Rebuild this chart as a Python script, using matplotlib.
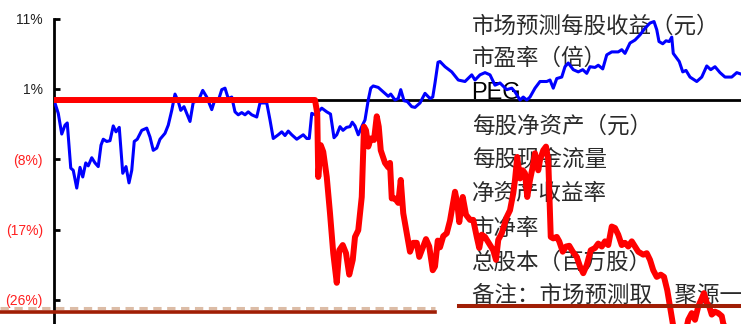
import numpy as np
import matplotlib
matplotlib.use("Agg")
import matplotlib.pyplot as plt
from matplotlib.lines import Line2D

# relative performance in %, x = trading day index
blue_days = [0.0, 1.7, 3.1, 4.4, 5.3, 6.7, 7.7, 9.1, 10.4, 11.5,
             12.7, 13.7, 15.1, 16.4, 17.7, 18.8, 19.7, 21.1, 22.4, 23.7,
             24.8, 26.1, 27.5, 28.8, 30.0, 31.1, 32.1, 33.3, 35.1, 37.1,
             38.4, 39.7, 41.1, 42.4, 44.4, 45.7, 47.1, 48.4, 49.7, 50.7,
             52.0, 54.4, 55.7, 57.7, 59.5, 61.1, 63.1, 64.4, 65.7, 67.1,
             68.4, 69.7, 71.1, 72.4, 73.7, 75.1, 76.4, 77.7, 79.1, 81.1,
             82.4, 85.1, 86.4, 87.7, 89.7, 91.1, 92.4, 93.7, 95.1, 97.1,
             98.4, 99.7, 101.1, 102.1, 103.1, 104.4, 105.7, 107.1, 109.1, 110.6,
             112.0, 113.1, 114.4, 115.6, 117.0, 118.4, 119.3, 120.4, 121.7, 123.1,
             124.4, 125.7, 126.7, 127.7, 129.7, 131.7, 133.7, 134.7, 136.4, 137.7,
             138.7, 140.0, 141.3, 143.1, 144.4, 146.4, 148.4, 150.4, 151.5, 152.4,
             153.6, 154.4, 156.4, 159.1, 161.7, 164.4, 167.1, 168.4, 170.4, 172.4,
             174.4, 176.4, 178.4, 181.1, 183.1, 184.4, 186.4, 187.7, 189.1, 190.4,
             192.4, 194.4, 197.1, 198.4, 199.7, 201.1, 203.1, 204.4, 205.7, 207.7,
             209.7, 211.5, 213.1, 214.4, 216.4, 217.7, 219.5, 221.1, 223.1, 225.7,
             227.1, 228.4, 230.4, 232.4, 234.4, 236.4, 238.4, 240.0, 241.1, 242.0,
             243.5, 244.8, 246.1, 247.1, 247.7, 248.8, 250.1, 251.5, 252.8, 254.4,
             257.1, 259.1, 261.1, 262.7, 264.4, 266.4, 268.4, 271.1, 273.1, 274.8]
blue_vals = [0.0, -1.8, -4.6, -3.4, -3.1, -9.2, -9.5, -11.9, -9.1, -10.4,
             -8.5, -8.9, -7.8, -8.5, -9.0, -6.1, -5.3, -5.6, -5.5, -3.5,
             -4.3, -3.7, -9.9, -9.0, -11.2, -9.5, -5.6, -5.3, -4.1, -3.8,
             -5.0, -6.8, -6.5, -5.3, -4.5, -3.4, -1.4, 0.8, -0.2, -1.4,
             -0.9, -2.9, -0.3, -0.1, 1.3, 0.4, -1.3, 0.1, -0.1, 1.4,
             1.6, 0.2, 0.4, -1.6, -2.0, -1.7, -2.0, -1.6, -2.0, -2.3,
             -0.4, -0.4, -2.7, -5.2, -4.7, -4.3, -4.8, -4.2, -4.7, -5.3,
             -5.0, -4.7, -5.2, -5.2, -1.8, -2.0, -1.6, -1.1, -1.6, -1.9,
             -5.1, -4.7, -3.6, -4.1, -3.7, -3.6, -3.0, -3.5, -4.7, -3.6,
             -2.7, 0.0, 1.6, 1.9, 1.7, 1.1, 0.5, 0.8, 0.0, 0.2,
             1.4, -0.1, -0.2, -0.9, -1.0, -0.4, 0.9, 0.2, 0.4, 2.3,
             5.1, 5.2, 4.5, 3.8, 2.7, 2.5, 3.4, 2.7, 3.4, 3.7,
             3.4, 2.0, 2.3, 1.4, 1.6, 1.1, 0.0, 0.4, 0.0, 0.4,
             1.6, 2.5, 2.5, 2.7, 1.6, 2.9, 3.1, 4.5, 5.0, 4.1,
             3.8, 4.1, 3.6, 4.5, 4.4, 4.7, 4.2, 6.1, 6.5, 6.5,
             6.8, 6.3, 7.7, 8.1, 8.8, 9.7, 10.4, 10.6, 9.5, 7.9,
             7.6, 8.0, 7.9, 8.5, 6.3, 5.8, 5.2, 3.8, 4.0, 3.1,
             2.5, 3.1, 4.6, 4.1, 4.5, 3.7, 3.1, 3.1, 3.7, 3.5]

red_days = [0.0, 104.4, 105.3, 105.7, 106.7, 107.7, 109.1, 110.4, 111.7, 113.1,
            114.1, 115.5, 116.8, 118.1, 119.5, 120.4, 121.7, 123.1, 124.0, 124.8,
            125.7, 126.7, 128.0, 129.1, 129.9, 130.7, 132.4, 133.7, 134.4, 135.1,
            136.4, 137.7, 138.7, 139.7, 141.1, 142.4, 143.7, 145.1, 146.1, 147.1,
            148.8, 150.1, 151.5, 152.4, 153.5, 154.4, 155.7, 157.1, 158.4, 160.4,
            161.3, 162.1, 163.5, 164.8, 166.4, 167.7, 169.1, 170.1, 171.1, 172.4,
            174.4, 175.7, 176.8, 177.7, 179.1, 181.1, 182.4, 183.7, 184.4, 185.3,
            186.4, 187.5, 188.4, 189.3, 190.4, 191.5, 192.4, 193.7, 194.4, 195.7,
            196.8, 197.7, 198.7, 199.7, 201.1, 202.1, 203.5, 204.8, 206.1, 207.5,
            209.1, 210.4, 211.7, 213.1, 214.7, 216.4, 217.7, 219.1, 220.4, 221.7,
            223.1, 224.4, 225.7, 227.1, 228.4, 229.7, 231.1, 232.4, 233.7, 235.7,
            237.1, 238.4, 239.7, 241.1, 242.7, 244.0, 245.3, 246.4, 247.5, 248.8,
            251.2, 252.8, 253.7, 255.1, 256.4, 257.7, 259.1, 260.0, 261.1, 262.1,
            263.1, 264.4, 265.7, 267.1, 267.7, 269.6, 271.2]
red_vals = [0.0, 0.0, -1.8, -10.4, -6.1, -7.0, -10.4, -15.3, -20.7, -24.7,
            -20.3, -19.6, -20.7, -23.6, -21.6, -18.5, -17.6, -13.1, -3.6, -4.1,
            -6.3, -5.2, -5.4, -2.2, -3.6, -6.8, -8.5, -9.1, -8.5, -13.3,
            -13.3, -13.9, -10.8, -15.3, -18.0, -20.5, -19.3, -19.3, -21.2, -20.3,
            -18.8, -19.8, -23.0, -22.5, -19.0, -19.9, -18.4, -18.0, -16.3, -12.4,
            -13.9, -16.5, -13.1, -15.5, -16.2, -16.2, -18.5, -20.0, -18.2, -18.5,
            -19.6, -20.3, -21.6, -18.9, -18.0, -15.8, -14.9, -12.6, -10.8, -7.7,
            -10.6, -9.5, -9.9, -13.1, -10.8, -9.0, -7.2, -9.5, -8.1, -6.8,
            -6.3, -8.1, -18.5, -18.7, -18.5, -19.1, -20.5, -19.8, -19.7, -20.5,
            -21.2, -22.5, -23.4, -22.3, -20.3, -20.0, -19.4, -19.8, -19.1, -19.6,
            -17.1, -17.3, -18.2, -19.6, -19.3, -19.8, -19.1, -19.8, -20.5, -20.9,
            -20.7, -21.6, -23.0, -23.9, -23.6, -23.9, -25.7, -27.9, -30.2, -32.4,
            -33.1, -31.1, -29.7, -28.8, -29.7, -27.9, -26.8, -26.1, -27.4, -27.9,
            -29.0, -28.6, -28.8, -29.2, -30.2, -31.7, -31.3]

tick_vals = [11, 1.5, -8, -17.5, -27]
tick_labels = ["11%", "1%", "(8%)", "(17%)", "(26%)"]
tick_colors = ["#222222", "#222222", "#ff2020", "#ff2020", "#ff2020"]

# only the part of the note that is visible in the clipped original
table_rows = ["市场预测每股收益（元）", "市盈率（倍）", "PEG", "每股净资产（元）",
              "每股现金流量", "净资产收益率", "市净率", "总股本（百万股）",
              "备注：市场预测取　聚源一"]
row_centers = [26, 58, 93, 126, 160, 193, 228, 262, 295]  # px from top

W, H = 741, 324
plt.rcParams['lines.scale_dashes'] = False

fig = plt.figure(figsize=(W / 100, H / 100), dpi=100)
# axes runs off the bottom/right of the picture, as in the clipped original
ax = fig.add_axes([54 / W, -16 / H, 687 / W, 321.4 / H])
ax.set_xlim(0, 274.8)
ax.set_ylim(-32.43, 11.0)

ax.axhline(0, color="black", lw=2, zorder=2)
ax.plot(blue_days, blue_vals, color="#0000ff", lw=2.2, zorder=3)
ax.plot(red_days, red_vals, color="#ff0000", lw=4.3, zorder=4,
        solid_joinstyle="round")

for side in ["top", "right", "bottom"]:
    ax.spines[side].set_visible(False)
ax.spines["left"].set_linewidth(2)
ax.set_xticks([])
ax.set_yticks(tick_vals)
ax.set_yticklabels(tick_labels, fontsize=10, family="Liberation Sans")
ax.tick_params(axis="y", direction="in", length=4, width=2, pad=8)
for lab, c in zip(ax.get_yticklabels(), tick_colors):
    lab.set_color(c)

for txt, yc in zip(table_rows, row_centers):
    if txt == "PEG":
        ax.text(471 / W, 1 - yc / H, txt, transform=fig.transFigure,
                fontsize=17, family="Liberation Sans", color="black",
                va="center", zorder=1)
    else:
        ax.text(472 / W, 1 - yc / H, txt, transform=fig.transFigure,
                fontsize=16.2, family=["Noto Sans CJK SC", "DejaVu Sans"],
                color="#2a2a2a", va="center", zorder=1)

# rules at the bottom of the table
fig.add_artist(Line2D([0, 435 / W], [1 - 308 / H] * 2, color="#dcbca6", lw=2.2,
                      linestyle=(0, (6, 4)), zorder=5))
fig.add_artist(Line2D([0, 435 / W], [1 - 311.7 / H] * 2, color="#a01e05",
                      lw=2.6, zorder=6))
fig.add_artist(Line2D([459 / W, 1], [1 - 306 / H] * 2, color="#a01e05",
                      lw=2.9, zorder=6))

fig.savefig("out.png", dpi=100)
